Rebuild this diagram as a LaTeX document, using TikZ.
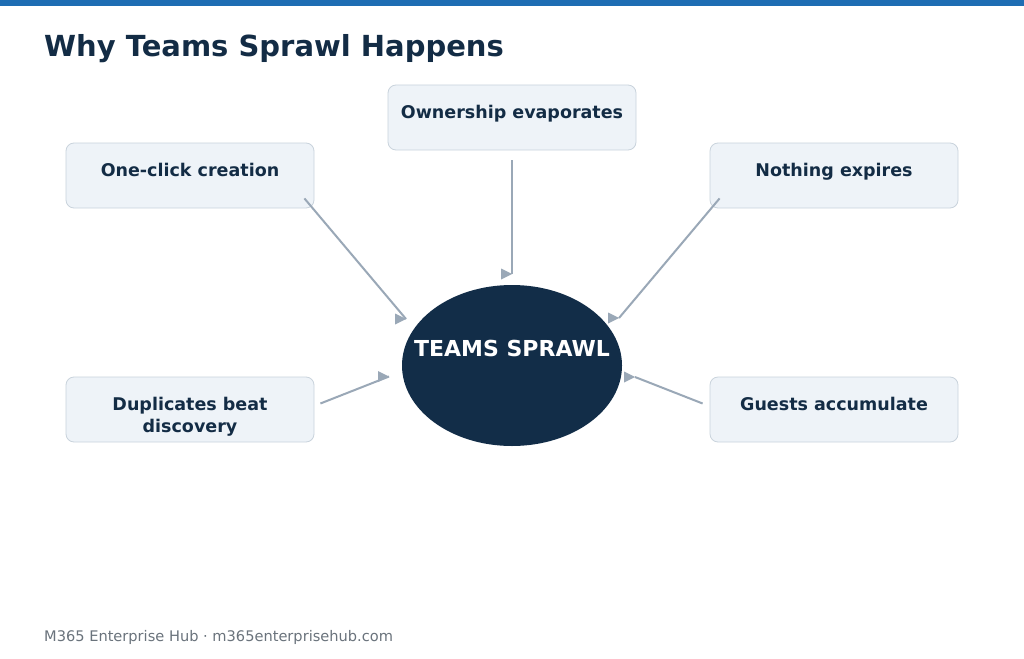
\documentclass[tikz,border=0pt]{standalone}
\usepackage{fontspec}
\setmainfont{DejaVu Sans}

\definecolor{topbar}{HTML}{1E6DB3}
\definecolor{inkdark}{HTML}{132C45}
\definecolor{hubfill}{HTML}{122D48}
\definecolor{boxfill}{HTML}{EEF3F8}
\definecolor{boxline}{HTML}{C9D3DC}
\definecolor{linkgray}{HTML}{9AA8B7}
\definecolor{footgray}{HTML}{6A737C}

\begin{document}
\begin{tikzpicture}[x=1pt, y=-1pt, line cap=round, line join=round]
	\tikzset{
		cause/.style={draw=boxline, fill=boxfill, line width=0.8pt, rounded corners=8pt,
			minimum width=248pt, minimum height=65pt, inner sep=0pt},
		causetext/.style={anchor=north, inner sep=0pt, align=center,
			text=inkdark, font=\bfseries\fontsize{17.5}{22}\selectfont},
		link/.style={draw=linkgray, line width=2pt, line cap=butt},
	}
	% CANVAS AND TOP BAR
	\useasboundingbox (0,0) rectangle (1024,658);
	\fill[white] (0,0) rectangle (1024,658);
	\fill[topbar] (0,0) rectangle (1024,6);
	
	% TITLE AND FOOTER
	\node[anchor=base west, inner sep=0pt, text=inkdark, font=\bfseries\fontsize{29}{34}\selectfont] (title) at (44,57) {Why Teams Sprawl Happens};
	\node[anchor=base west, inner sep=0pt, text=footgray, font=\fontsize{14.6}{18}\selectfont] (footer) at (44,641.5) {M365 Enterprise Hub · m365enterprisehub.com};
	
	% CENTRAL ELLIPSE
	\fill[hubfill] (512,365.5) ellipse (110 and 80.5);
	\coordinate (core) at (512,365.5);
	\node[anchor=base, inner sep=0pt, text=white, font=\bfseries\fontsize{22}{26}\selectfont] (coreText) at ([yshift=9pt]core) {TEAMS SPRAWL};
	
	% CAUSE BOXES
	\node[cause] (own) at (512,117.5) {};
	\node[cause] (click) at (190,175.5) {};
	\node[cause] (expire) at (834,175.5) {};
	\node[cause] (dup) at (190,409.5) {};
	\node[cause] (guest) at (834,409.5) {};
	\foreach \n/\t in {own/Ownership evaporates, click/One-click creation, expire/Nothing expires, dup/Duplicates beat\\discovery, guest/Guests accumulate} {
		\node[causetext] (\n Text) at ([yshift=-20pt]\n.north) {\t};
	}
	
	% ARROW ENDS ON THE ELLIPSE
	\coordinate (tipOwn) at (512,274);
	\coordinate (tipClick) at (406,319);
	\coordinate (tipExpire) at (619,318);
	\coordinate (tipDup) at (389,376.5);
	\coordinate (tipGuest) at (635,377);
	
	% ARROWS (heads all drawn facing right)
	\draw[link] ([yshift=-10pt]own.south) -- (tipOwn);
	\draw[link] ([xshift=-10pt, yshift=10pt]click.south east) -- (tipClick);
	\draw[link] ([xshift=10pt, yshift=10pt]expire.south west) -- (tipExpire);
	\draw[link] ([xshift=6pt, yshift=6pt]dup.east) -- (tipDup);
	\draw[link] ([xshift=-7pt, yshift=6pt]guest.west) -- (tipGuest);
	\foreach \tip in {tipOwn, tipClick, tipExpire, tipDup, tipGuest} {
		\fill[linkgray] (\tip) -- ++(-11,-5.5) -- ++(0,11) -- cycle;
	}
\end{tikzpicture}
\end{document}
